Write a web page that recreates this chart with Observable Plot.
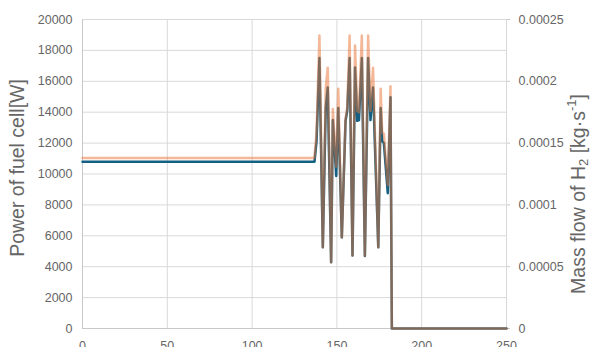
<!DOCTYPE html>
<html>
<head>
<meta charset="utf-8">
<script src="https://cdn.jsdelivr.net/npm/d3@7"></script>
<script src="https://cdn.jsdelivr.net/npm/@observablehq/plot@0.6"></script>
<style>
  html, body { margin: 0; padding: 0; background: #fff; overflow: hidden; }
  #chart { width: 593px; height: 347px; }
</style>
</head>
<body>
<div id="chart"></div>
<script>
// Time [s]
const time = [0, 136.8, 138.0, 139.7, 141.7, 143.4, 144.6, 146.6, 147.6, 149.6, 150.8, 152.9,
  155.1, 156.1, 157.5, 159.2, 160.7, 162.0, 163.0, 164.7, 166.5, 168.4, 169.8, 171.3,
  174.4, 175.8, 176.7, 177.7, 180.0, 181.6, 182.4, 250];
// Power of fuel cell [W]
const power = [10800, 10800, 12140, 17510, 5260, 14270, 15600, 4290, 13490, 9870, 14270, 5900,
  13440, 14090, 17510, 4720, 16900, 13440, 13490, 17510, 4700, 17510, 13490, 15600,
  5260, 14270, 12140, 12000, 8760, 14960, 0, 0];
// Mass flow of H2 [kg/s]
const massFlow = [0.000138, 0.000138, 0.0001585, 0.000237, 0.0000658, 0.000194, 0.000211, 0.0000536, 0.0001775, 0.000131, 0.000194, 0.0000738,
  0.00017, 0.000179, 0.000237, 0.000059, 0.000229, 0.000176, 0.000175, 0.000237, 0.0000588, 0.000237, 0.000176, 0.000211,
  0.0000658, 0.000194, 0.0001585, 0.0001575, 0.000116, 0.000196, 0, 0];

const xTicks = [0, 50, 100, 150, 200, 250];
const powerTicks = [0, 2000, 4000, 6000, 8000, 10000, 12000, 14000, 16000, 18000, 20000];
const massTicks = [0, 0.00005, 0.0001, 0.00015, 0.0002, 0.00025];

const powerMax = 20000, massMax = 0.00025;
const K = powerMax / massMax; // map secondary axis onto primary scale

const powerData = time.map((t, i) => ({t, p: power[i]}));
const massData = time.map((t, i) => ({t, m: massFlow[i]}));

const chart = Plot.plot({
  width: 593,
  height: 347,
  marginLeft: 82,
  marginRight: 87,
  marginTop: 19,
  marginBottom: 19,
  style: {fontFamily: "'Liberation Sans', Arial, sans-serif", fontSize: "12.5px", color: "#666", background: "white", overflow: "visible"},
  x: {domain: [0, 250]},
  y: {domain: [0, powerMax]},
  marks: [
    Plot.gridY(powerTicks, {stroke: "#d9d9d9", strokeOpacity: 1}),
    Plot.gridX(xTicks.slice(1), {stroke: "#d9d9d9", strokeOpacity: 1}),
    Plot.ruleY([0], {stroke: "#c8c8c8"}),
    Plot.ruleX([0], {stroke: "#c8c8c8"}),
    Plot.axisY(powerTicks, {anchor: "left", tickSize: 0, tickPadding: 10, label: null, tickFormat: d => String(d)}),
    Plot.axisY(massTicks.map(m => m * K), {anchor: "right", tickSize: 3, tickPadding: 9, label: null, stroke: "#c8c8c8",
      tickFormat: d => String(+(d / K).toPrecision(6))}),
    Plot.axisX(xTicks, {anchor: "bottom", tickSize: 0, tickPadding: 13, label: null, tickFormat: d => String(d)}),
    Plot.line(powerData, {x: "t", y: "p", stroke: "#156082", strokeWidth: 2.5, curve: "linear"}),
    Plot.line(massData, {x: "t", y: d => d.m * K, stroke: "#E97132", strokeOpacity: 0.5, strokeWidth: 2.5, curve: "linear"})
  ]
});

const svg = d3.select(chart);
svg.append("text")
  .attr("transform", "translate(19,168) rotate(-90)")
  .attr("text-anchor", "middle")
  .attr("dominant-baseline", "middle")
  .attr("font-size", "19.5px")
  .attr("fill", "#666")
  .text("Power of fuel cell[W]");
const rt = svg.append("text")
  .attr("transform", "translate(580,194) rotate(-90)")
  .attr("text-anchor", "middle")
  .attr("dominant-baseline", "middle")
  .attr("font-size", "19.5px")
  .attr("fill", "#666");
rt.append("tspan").text("Mass flow of H");
rt.append("tspan").attr("font-size", "13px").attr("dy", "5").text("2");
rt.append("tspan").attr("dy", "-5").text(" [kg·s");
rt.append("tspan").attr("font-size", "13px").attr("dy", "-7").text("-1");
rt.append("tspan").attr("dy", "7").text("]");

document.getElementById("chart").appendChild(chart);
</script>
</body>
</html>
